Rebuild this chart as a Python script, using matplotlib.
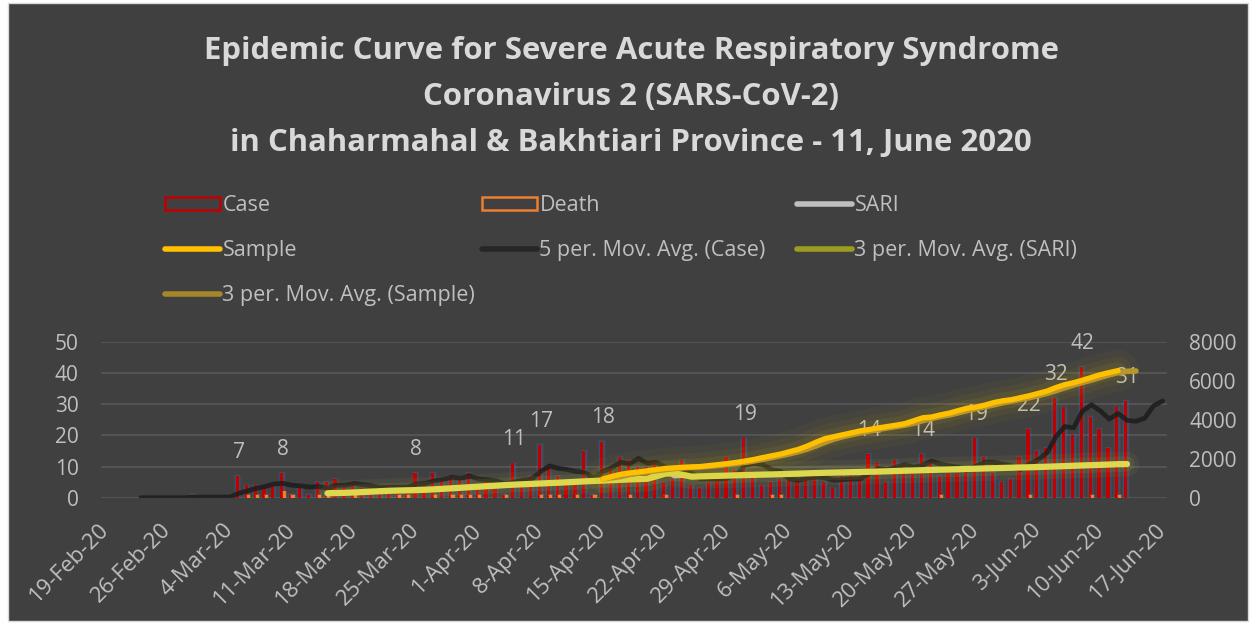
import numpy as np
import pandas as pd
import matplotlib
matplotlib.use('Agg')
import matplotlib.pyplot as plt
from matplotlib.lines import Line2D
from matplotlib.patches import Patch, Rectangle

plt.rcParams['font.family'] = ['Open Sans', 'DejaVu Sans']

# ---- data ----
start = pd.Timestamp('2020-02-19')
end = pd.Timestamp('2020-06-17')

# daily confirmed cases from 19-Feb-20 on
cases = [0, 0, 0, 0, 0, 0, 0, 0, 0, 0,
         1, 0, 0, 0, 0, 7, 4, 4, 3, 4,
         8, 1, 3, 1, 5, 5, 6, 3, 4, 3,
         3, 3, 4, 4, 3, 8, 4, 8, 6, 7,
         6, 8, 3, 5, 5, 1, 11, 6, 7, 17,
         10, 7, 4, 4, 15, 1, 18, 10, 13, 12,
         10, 10, 12, 5, 6, 12, 4, 3, 5, 6,
         13, 9, 19, 8, 4, 5, 6, 7, 6, 7,
         7, 5, 3, 7, 8, 7, 14, 11, 5, 12,
         11, 10, 14, 12, 7, 8, 8, 9, 19, 13,
         8, 5, 6, 13, 22, 15, 16, 32, 29, 20,
         42, 26, 22, 16, 29, 31]

deaths = [0, 0, 0, 0, 0, 0, 0, 0, 0, 0,
          0, 0, 0, 0, 0, 0, 1, 1, 1, 0,
          2, 1, 0, 0, 1, 1, 0, 0, 1, 0,
          0, 0, 0, 1, 1, 0, 0, 1, 0, 1,
          1, 1, 1, 0, 0, 1, 0, 0, 0, 1,
          1, 1, 0, 1, 0, 1, 0, 0, 0, 1,
          0, 0, 0, 1, 0, 0, 0, 0, 0, 0,
          0, 1, 0, 0, 0, 1, 1, 0, 0, 0,
          0, 0, 0, 0, 0, 0, 0, 0, 0, 0,
          0, 0, 0, 0, 1, 0, 0, 0, 0, 0,
          0, 0, 0, 0, 1, 0, 0, 0, 0, 0,
          0, 1, 0, 0, 1, 0]

# samples (right axis) from 15-Apr-20 on
sample_start = pd.Timestamp('2020-04-15')
sample = [960, 1090, 1200, 1270, 1320, 1380, 1440, 1500, 1530, 1560,
          1580, 1600, 1650, 1700, 1750, 1810, 1880, 1960, 2060, 2150,
          2240, 2360, 2480, 2650, 2850, 3030, 3130, 3230, 3330, 3430,
          3500, 3580, 3650, 3720, 3800, 3950, 4100, 4140, 4250, 4340,
          4470, 4590, 4650, 4750, 4880, 4970, 5030, 5130, 5230, 5350,
          5470, 5650, 5800, 5900, 6030, 6170, 6310, 6420, 6520]

# SARI (right axis) from 15-Mar-20 on
sari_start = pd.Timestamp('2020-03-15')
sari = [230, 250, 270, 290, 310, 340, 360, 370, 380, 390,
        400, 430, 460, 480, 510, 540, 570, 590, 620, 650,
        670, 690, 710, 730, 750, 770, 790, 820, 840, 860,
        880, 900, 920, 940, 955, 970, 990, 1330, 1380, 1060,
        1080, 1100, 1110, 1120, 1135, 1150, 1160, 1175, 1185, 1195,
        1205, 1220, 1235, 1250, 1265, 1280, 1290, 1300, 1310, 1320,
        1330, 1340, 1355, 1370, 1385, 1400, 1410, 1425, 1440, 1450,
        1460, 1475, 1490, 1500, 1515, 1525, 1540, 1550, 1560, 1575,
        1590, 1605, 1620, 1640, 1655, 1670, 1685, 1700, 1720]

# the Excel trendlines run a few days past the last point
case_ma_tail = [24.5, 25.5, 29.5, 31]
sample_ma_tail = [6480, 6500]
sari_ma_tail = [1722, 1725]

label_dates = ['2020-03-05', '2020-03-10', '2020-03-25', '2020-04-05',
               '2020-04-08', '2020-04-15', '2020-05-01', '2020-05-15',
               '2020-05-21', '2020-05-27', '2020-06-02', '2020-06-05',
               '2020-06-08', '2020-06-13']

title = ('Epidemic Curve for Severe Acute Respiratory Syndrome\n'
         'Coronavirus 2 (SARS-CoV-2)\n'
         'in Chaharmahal & Bakhtiari Province - 11, June 2020')

# ---- series ----
day = pd.Timedelta(days=1)
dates = pd.date_range(start, periods=len(cases), freq='D')
s_cases = pd.Series(cases, index=dates)
s_deaths = pd.Series(deaths, index=dates)
s_sample = pd.Series(sample, index=pd.date_range(sample_start, periods=len(sample), freq='D'))
s_sari = pd.Series(sari, index=pd.date_range(sari_start, periods=len(sari), freq='D'))

def with_tail(ma, tail):
    idx = pd.date_range(ma.index[-1] + day, periods=len(tail), freq='D')
    return pd.concat([ma, pd.Series(tail, index=idx)])

case_ma = with_tail(s_cases.rolling(5).mean(), case_ma_tail).dropna()
sample_ma = with_tail(s_sample.rolling(3, min_periods=1).mean(), sample_ma_tail)
sari_ma = with_tail(s_sari.rolling(3, min_periods=1).mean(), sari_ma_tail)

BG = '#404040'
TXT = '#bfbfbf'
C_CASE = '#c00000'
C_DEATH = '#ed7d31'
C_SARI = '#bfbfbf'
C_SAMPLE = '#ffc000'
C_CMA = '#1c1c1c'
C_SARIMA = '#dcd94e'
C_SMA = '#b8962c'

# ---- figure ----
fig = plt.figure(figsize=(12.5, 6.23), dpi=100, facecolor='white')
fig.patches.append(Rectangle((0.006, 0.004), 0.992, 0.991, transform=fig.transFigure,
                             facecolor=BG, edgecolor='#d9d9d9', lw=1, zorder=-10))

ax = fig.add_axes([0.0808, 0.2011, 0.8528, 0.2504])
ax.set_facecolor('none')
ax2 = ax.twinx()

# bar glow
nz = s_cases[s_cases > 0]
ax.bar(nz.index - 0.1 * day, nz.values + 1.0, bottom=-0.6, width=0.85, color='#4472c4',
       alpha=0.12, lw=0, zorder=1)
ax.bar(nz.index - 0.1 * day, nz.values + 0.5, bottom=-0.3, width=0.6, color='#4472c4',
       alpha=0.16, lw=0, zorder=1)

ax.bar(dates - 0.15 * day, s_cases.values, width=0.36, color=C_CASE, lw=0, zorder=2)
dd = s_deaths[s_deaths > 0]
ax.bar(dd.index + 0.12 * day, dd.values + 0.6, bottom=-0.5, width=0.6, color=C_DEATH,
       alpha=0.25, lw=0, zorder=3)
ax.bar(dd.index + 0.12 * day, dd.values, width=0.36, color=C_DEATH, lw=0, zorder=3)

for d in label_dates:
    t = pd.Timestamp(d)
    v = s_cases[t]
    ax.annotate(str(v), (t, v), xytext=(0, 17), textcoords='offset points',
                ha='center', va='center', fontsize=15, color=TXT, zorder=6)

ax.plot(case_ma.index, case_ma.values, color=C_CMA, lw=3.4, alpha=0.85,
        solid_capstyle='round', zorder=4)

# right axis lines with glow
for lw, a in [(18, 0.05), (11, 0.08)]:
    ax2.plot(sari_ma.index, sari_ma.values, color='#e6e64c', lw=lw, alpha=a,
             solid_capstyle='round')
ax2.plot(s_sari.index, s_sari.values, color=C_SARI, lw=2)
ax2.plot(sari_ma.index, sari_ma.values, color=C_SARIMA, lw=4.5, solid_capstyle='round')

for lw, a in [(30, 0.035), (20, 0.05), (12, 0.08)]:
    ax2.plot(s_sample.index, s_sample.values, color='#e6c200', lw=lw, alpha=a,
             solid_capstyle='round')
ax2.plot(sample_ma.index, sample_ma.values, color=C_SMA, lw=4, solid_capstyle='round')
ax2.plot(s_sample.index, s_sample.values, color=C_SAMPLE, lw=3.8, solid_capstyle='round')

# axes cosmetics
ax.set_xlim(start - 0.5 * day, end + 0.5 * day)
ax.set_ylim(0, 50)
ax.set_yticks(range(0, 51, 10))
ax2.set_ylim(0, 8000)
ax2.set_yticks(range(0, 8001, 2000))
ax.grid(axis='y', color='#595959', lw=1.2)
ax.set_axisbelow(True)
for a in (ax, ax2):
    for sp in a.spines.values():
        sp.set_visible(False)
ax.tick_params(axis='y', length=0, pad=16, labelsize=15, labelcolor=TXT)
ax2.tick_params(axis='y', length=0, pad=16, labelsize=15, labelcolor=TXT)

ticks = pd.date_range(start, end, freq='7D')
ax.set_xticks(ticks)
ax.set_xticklabels([f'{t.day}-{t.strftime("%b-%y")}' for t in ticks])
ax.tick_params(axis='x', length=0, pad=21, labelsize=16, labelcolor=TXT)
for lbl in ax.get_xticklabels():
    lbl.set(rotation=45, ha='right', va='center', rotation_mode='anchor')

fig.text(0.505, 1 - 97 / 623, title, ha='center', va='center', fontsize=22.4,
         fontweight='bold', color='#d9d9d9', linespacing=1.68)

# legend, three columns
cols = [
    [(Patch(facecolor='none', edgecolor=C_CASE, lw=1.8), 'Case'),
     (Line2D([], [], color=C_SAMPLE, lw=4, solid_capstyle='round'), 'Sample'),
     (Line2D([], [], color='#a6862a', lw=4, solid_capstyle='round'), '3 per. Mov. Avg. (Sample)')],
    [(Patch(facecolor='none', edgecolor=C_DEATH, lw=1.8), 'Death'),
     (Line2D([], [], color='#262626', lw=4, solid_capstyle='round'), '5 per. Mov. Avg. (Case)')],
    [(Line2D([], [], color=C_SARI, lw=4, solid_capstyle='round'), 'SARI'),
     (Line2D([], [], color='#9c9c22', lw=4, solid_capstyle='round'), '3 per. Mov. Avg. (SARI)')],
]
for xpx, col in zip([165, 482, 797], cols):
    fig.legend([h for h, _ in col], [l for _, l in col], loc='upper left',
               bbox_to_anchor=(xpx / 1250, 1 - 195 / 623), frameon=False,
               fontsize=15.5, labelcolor=TXT, handlelength=2.55, handleheight=0.6,
               handletextpad=0.12, borderpad=0, borderaxespad=0, labelspacing=1.12)

fig.savefig('out.png', dpi=100, facecolor=fig.get_facecolor())
